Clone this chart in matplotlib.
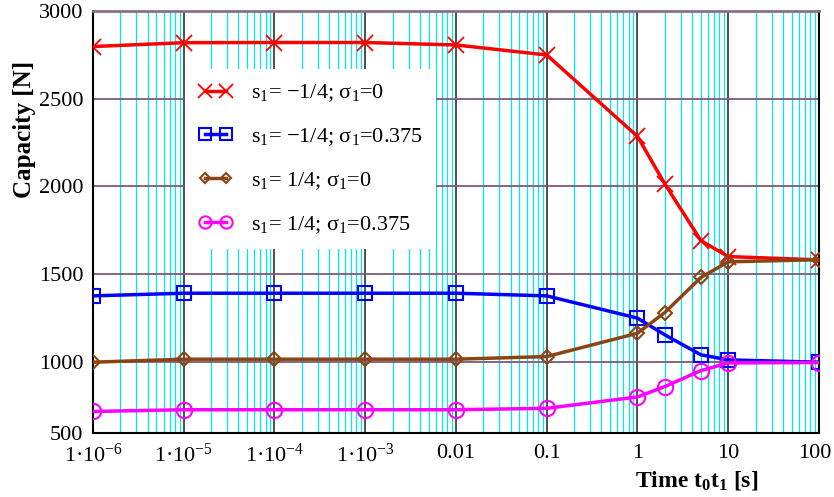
import numpy as np
import matplotlib
matplotlib.use("Agg")
import matplotlib.pyplot as plt
import matplotlib.transforms as mtransforms
from matplotlib.ticker import FixedLocator, LogLocator, NullFormatter

plt.rcParams['font.family'] = ['Liberation Serif', 'DejaVu Serif']
plt.rcParams['mathtext.fontset'] = 'custom'
plt.rcParams['mathtext.rm'] = 'Liberation Serif'
plt.rcParams['mathtext.it'] = 'Liberation Serif:italic'
plt.rcParams['mathtext.bf'] = 'Liberation Serif:bold'

# data
time = [1e-6, 1e-5, 1e-4, 1e-3, 0.01, 0.1, 1, 2, 5, 10, 100]
cap_neg_s0 = [2797, 2819, 2820, 2820, 2806, 2749, 2285, 2014, 1691, 1600, 1581]
cap_neg_s375 = [1376, 1391, 1391, 1391, 1391, 1376, 1249, 1154, 1040, 1011, 998]
cap_pos_s0 = [998, 1015, 1015, 1015, 1015, 1030, 1163, 1281, 1481, 1570, 1582]
cap_pos_s375 = [717, 727, 727, 727, 727, 735, 800, 859, 950, 994, 996]

labels = ["s$_1$= \u22121/4; \u03c3$_1$=0",
          "s$_1$= \u22121/4; \u03c3$_1$=0.375",
          "s$_1$= 1/4; \u03c3$_1$=0",
          "s$_1$= 1/4; \u03c3$_1$=0.375"]

xtick_vals = [1e-6, 1e-5, 1e-4, 1e-3, 0.01, 0.1, 1, 10, 100]
xtick_labels = ["1\u00b710$^{-6}$", "1\u00b710$^{-5}$", "1\u00b710$^{-4}$", "1\u00b710$^{-3}$",
                "0.01", "0.1", "1", "10", "100"]
y_low = 595
ytick_vals = [y_low, 1000, 1500, 2000, 2500, 3000]
ytick_labels = ["500", "1000", "1500", "2000", "2500", "3000"]

fig = plt.figure(figsize=(8.34, 4.97), dpi=100)
ax = fig.add_axes([0.1115, 0.129, 0.8705, 0.849])

ax.plot(time, cap_neg_s0, '-', color='#ff0000', lw=2.5, marker='x', ms=12, mew=1.3, label=labels[0], zorder=5)
ax.plot(time, cap_neg_s375, '-', color='#0000ff', lw=2.5, marker='s', ms=10, mfc='none', mew=1.5, label=labels[1], zorder=5)
ax.plot(time, cap_pos_s0, '-', color='#8b4513', lw=2.5, marker='D', ms=7, mfc='none', mew=1.5, label=labels[2], zorder=5)
ax.plot(time, cap_pos_s375, '-', color='#ff00ff', lw=2.5, marker='o', ms=11, mfc='none', mew=1.5, label=labels[3], zorder=5)

ax.set_xscale('log')
ax.set_xlim(1e-6, 100)
ax.set_ylim(y_low, 3000)

ax.xaxis.set_major_locator(FixedLocator(xtick_vals))
ax.set_xticklabels(xtick_labels, fontsize=16)
ax.xaxis.set_minor_locator(LogLocator(base=10, subs=np.arange(2, 10), numticks=20))
ax.xaxis.set_minor_formatter(NullFormatter())
ax.set_yticks(ytick_vals)
ax.set_yticklabels(ytick_labels, fontsize=16)
ax.tick_params(axis='x', which='both', length=0, pad=8)
ax.tick_params(axis='y', which='both', length=0, pad=7)
# keep the last label just inside the figure
shift = mtransforms.ScaledTranslation(-4 / 100, 0, fig.dpi_scale_trans)
last = ax.get_xticklabels()[-1]
last.set_transform(last.get_transform() + shift)

# grid lines
ax.grid(True, which='minor', axis='x', color='#00e8f0', lw=0.9, zorder=0)
ax.grid(True, which='major', axis='x', color='#404040', lw=1.3, zorder=1)
ax.grid(True, which='major', axis='y', color='#7a5a7a', lw=1.3, zorder=1)
ax.set_axisbelow(True)

for sp in ax.spines.values():
    sp.set_color('black')
    sp.set_linewidth(1.5)
ax.spines['top'].set_color('#8a708a')
ax.spines['top'].set_linewidth(2)

ax.set_ylabel("Capacity [N]", fontsize=18, fontweight='bold')
ax.yaxis.set_label_coords(-0.078, 0.72)
ax.set_xlabel("Time t$_\\mathbf{0}$t$_\\mathbf{1}$ [s]", fontsize=17, fontweight='bold')
ax.xaxis.set_label_coords(0.832, -0.085)

leg = ax.legend(loc='upper left', bbox_to_anchor=(0.127, 0.862), numpoints=2, fontsize=16,
                frameon=True, fancybox=False, edgecolor='none', framealpha=1.0,
                labelspacing=1.0, handlelength=1.55, handletextpad=0.8, borderpad=0.6,
                borderaxespad=0, markerscale=0.8)
leg.set_zorder(10)

fig.savefig("out.png", dpi=100)
